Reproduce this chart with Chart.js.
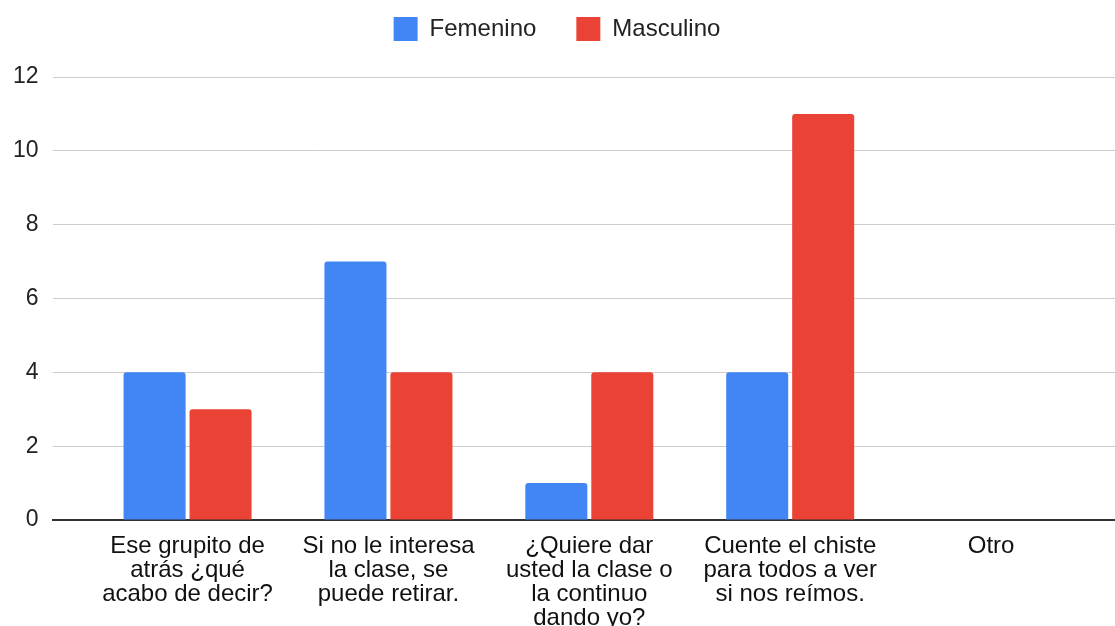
<!DOCTYPE html>
<html>
<head>
<meta charset="utf-8">
<script src="https://cdn.jsdelivr.net/npm/chart.js@4/dist/chart.umd.min.js"></script>
<style>
  html, body { margin: 0; padding: 0; background: #fff; overflow: hidden; }
  #wrap { width: 1115px; height: 636px; }
</style>
</head>
<body>
<div id="wrap"><canvas id="c" width="1115" height="636"></canvas></div>
<script>
const categories = [
  ["Ese grupito de", "atrás ¿qué", "acabo de decir?"],
  ["Si no le interesa", "la clase, se", "puede retirar."],
  ["¿Quiere dar", "usted la clase o", "la continuo", "dando yo?"],
  ["Cuente el chiste", "para todos a ver", "si nos reímos."],
  ["Otro"]
];
const seriesNames = ["Femenino", "Masculino"];
const femenino = [4, 7, 1, 4, 0];
const masculino = [3, 4, 4, 11, 0];
const yTicks = [0, 2, 4, 6, 8, 10, 12];

const FONT = "'Liberation Sans', Arial, sans-serif";

const toPoints = arr => arr.map((v, i) => ({ x: i, y: v }));

const legendHeight = {
  id: 'legendHeight',
  beforeInit(chart) {
    const lg = chart.legend;
    const orig = lg.fit.bind(lg);
    lg.fit = function () { orig(); this.height = 100; };
  }
};

new Chart(document.getElementById('c'), {
  type: 'bar',
  data: {
    datasets: [
      { label: seriesNames[0], data: toPoints(femenino), backgroundColor: '#4285F4', borderRadius: { topLeft: 3, topRight: 3 }, borderSkipped: 'bottom' },
      { label: seriesNames[1], data: toPoints(masculino), backgroundColor: '#EA4335', borderRadius: { topLeft: 3, topRight: 3 }, borderSkipped: 'bottom' }
    ]
  },
  plugins: [legendHeight],
  options: {
    responsive: false,
    animation: false,
    layout: { padding: { left: -1, right: 0, top: -23, bottom: 0 } },
    datasets: { bar: { categoryPercentage: 0.657, barPercentage: 0.94 } },
    plugins: {
      tooltip: { enabled: false },
      legend: {
        position: 'top',
        labels: {
          boxWidth: 24, boxHeight: 24, padding: 40,
          color: '#222',
          font: { family: FONT, size: 24 }
        }
      }
    },
    scales: {
      x: {
        type: 'linear',
        offset: false,
        min: -0.672, max: 4.617,
        grid: { display: false },
        border: { display: true, color: '#333', width: 2 },
        afterBuildTicks: s => { s.ticks = categories.map((_, i) => ({ value: i })); },
        afterFit: s => { s.paddingLeft = 0; s.paddingRight = 0; },
        ticks: {
          autoSkip: false, maxRotation: 0, minRotation: 0,
          padding: 6,
          color: '#111',
          font: { family: FONT, size: 24, lineHeight: '24px' },
          callback: v => categories[v] !== undefined ? categories[v] : ''
        }
      },
      y: {
        min: 0, max: 12,
        afterBuildTicks: s => { s.ticks = yTicks.map(v => ({ value: v })); },
        grid: { color: '#cccccc', lineWidth: 1, drawTicks: false },
        border: { display: false },
        ticks: {
          padding: 14,
          color: '#222',
          font: { family: FONT, size: 23 }
        }
      }
    }
  }
});
</script>
</body>
</html>
